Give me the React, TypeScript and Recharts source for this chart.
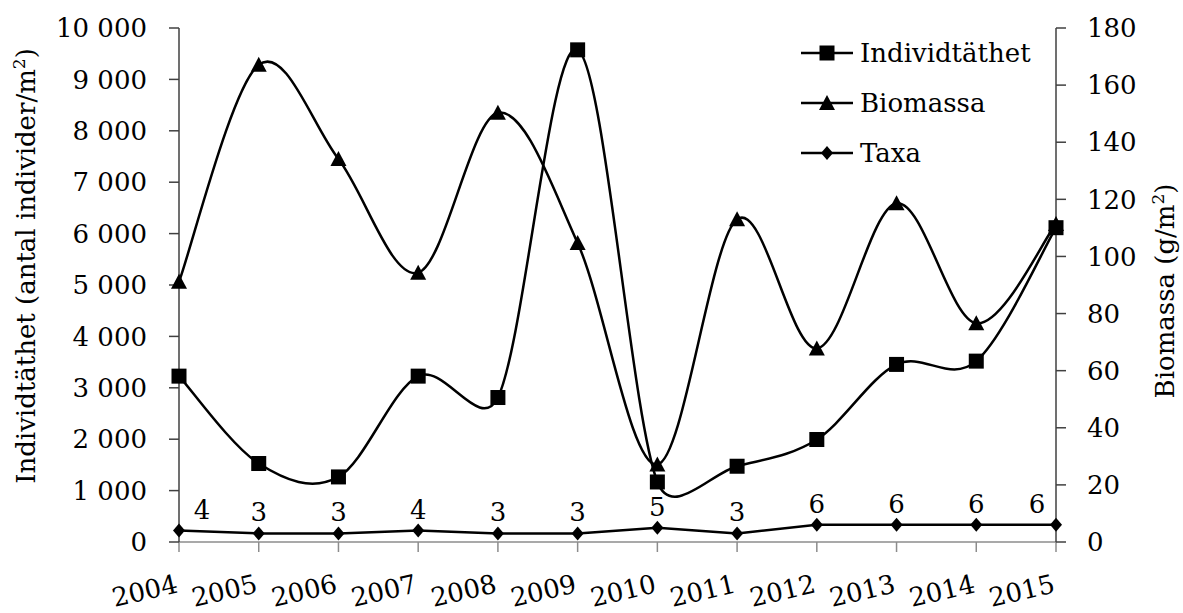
import React from "react";
import { LineChart, Line, XAxis, YAxis, Legend, LabelList, Label } from "recharts";

const years = ["2004", "2005", "2006", "2007", "2008", "2009", "2010", "2011", "2012", "2013", "2014", "2015"];
const individtathet = [3227, 1527, 1266, 3227, 2811, 9575, 1168, 1474, 1994, 3455, 3519, 6115];
const biomassa = [91.1, 167.1, 134.1, 94.3, 150.3, 104.7, 27.1, 113.0, 67.8, 118.6, 76.6, 111.4];
const taxa = [4, 3, 3, 4, 3, 3, 5, 3, 6, 6, 6, 6];

const leftTicks = [0, 1000, 2000, 3000, 4000, 5000, 6000, 7000, 8000, 9000, 10000];
const rightTicks = [0, 20, 40, 60, 80, 100, 120, 140, 160, 180];

const data = years.map((year, i) => ({
  year,
  ind: individtathet[i],
  bio: biomassa[i],
  taxa: taxa[i],
}));

const FONT = "'DejaVu Serif', serif";
const FS = 26;
const GRID_GRAY = "#8c8c8c";
const AXIS_DARK = "#404040";

// Excel-like smoothed line: tangent parallel to neighbours, arm capped at half the segment
function excelSmooth(context: any) {
  let pts: number[][] = [];
  return {
    areaStart() {},
    areaEnd() {},
    lineStart() {
      pts = [];
    },
    point(x: number, y: number) {
      pts.push([+x, +y]);
    },
    lineEnd() {
      const n = pts.length;
      if (!n) return;
      context.moveTo(pts[0][0], pts[0][1]);
      for (let i = 0; i < n - 1; i++) {
        const p0 = pts[Math.max(i - 1, 0)];
        const p1 = pts[i];
        const p2 = pts[i + 1];
        const p3 = pts[Math.min(i + 2, n - 1)];
        const seg = Math.hypot(p2[0] - p1[0], p2[1] - p1[1]);
        const arm = (a: number[], b: number[]) => {
          const dx = b[0] - a[0];
          const dy = b[1] - a[1];
          const d = Math.hypot(dx, dy);
          if (!d) return [0, 0];
          const len = Math.min(d / 6, seg / 2);
          return [(dx / d) * len, (dy / d) * len];
        };
        const a1 = arm(p0, p2);
        const a2 = arm(p1, p3);
        context.bezierCurveTo(p1[0] + a1[0], p1[1] + a1[1], p2[0] - a2[0], p2[1] - a2[1], p2[0], p2[1]);
      }
    },
  };
}

const fmtThousands = (v: number) => String(v).replace(/\B(?=(\d{3})+(?!\d))/g, " ");

const Square = ({ cx, cy, s = 15 }: any) => <rect x={cx - s / 2} y={cy - s / 2} width={s} height={s} fill="#000" />;
const Triangle = ({ cx, cy, s = 16 }: any) => (
  <polygon points={`${cx},${cy - s / 2} ${cx + s / 2},${cy + s / 2 - 1} ${cx - s / 2},${cy + s / 2 - 1}`} fill="#000" />
);
const Diamond = ({ cx, cy, s = 14 }: any) => (
  <polygon points={`${cx},${cy - s / 2} ${cx + s / 2 - 1},${cy} ${cx},${cy + s / 2} ${cx - s / 2 + 1},${cy}`} fill="#000" />
);

const renderSquare = (p: any) => <Square key={`sq${p.index}`} cx={p.cx} cy={p.cy} />;
const renderTriangle = (p: any) => <Triangle key={`tr${p.index}`} cx={p.cx} cy={p.cy} />;
const renderDiamond = (p: any) => <Diamond key={`di${p.index}`} cx={p.cx} cy={p.cy} />;

const YearTick = ({ x, y, payload }: any) => (
  <text
    x={x}
    y={y + 40}
    transform={`rotate(-13, ${x}, ${y + 40})`}
    textAnchor="end"
    fontFamily={FONT}
    fontSize={FS}
    fill="#000"
  >
    {payload.value}
  </text>
);

const TaxaLabel = ({ x, y, value, index }: any) => {
  let shift = 0;
  if (index === 0) shift = 23;
  if (index === taxa.length - 1) shift = -19;
  return (
    <text x={x + shift} y={y - 12} textAnchor="middle" fontFamily={FONT} fontSize={FS} fill="#000">
      {value}
    </text>
  );
};

const series = [
  { name: "Individtäthet", Marker: Square },
  { name: "Biomassa", Marker: Triangle },
  { name: "Taxa", Marker: Diamond },
];

const LegendBox = () => (
  <div style={{ fontFamily: FONT, fontSize: FS, color: "#000" }}>
    {series.map(({ name, Marker }) => (
      <div key={name} style={{ display: "flex", alignItems: "center", height: 50 }}>
        <svg width={52} height={20}>
          <line x1={0} y1={10} x2={52} y2={10} stroke="#000" strokeWidth={2.5} />
          <Marker cx={26} cy={10} />
        </svg>
        <span style={{ marginLeft: 7, lineHeight: "30px" }}>{name}</span>
      </div>
    ))}
  </div>
);

const LeftTitle = () => (
  <text transform="translate(35, 266) rotate(-90)" textAnchor="middle" fontFamily={FONT} fontSize={FS} fill="#000">
    Individtäthet (antal individer/m
    <tspan dy={-10} fontSize={17}>2</tspan>
    <tspan dy={10}>)</tspan>
  </text>
);

const RightTitle = () => (
  <text transform="translate(1174, 291) rotate(-90)" textAnchor="middle" fontFamily={FONT} fontSize={FS} fill="#000">
    Biomassa (g/m
    <tspan dy={-10} fontSize={17}>2</tspan>
    <tspan dy={10}>)</tspan>
  </text>
);

export default function App() {
  return (
    <div style={{ position: "absolute", left: 0, top: 0, background: "#fff", fontFamily: FONT }}>
      <LineChart width={1183} height={613} data={data} margin={{ top: 28, right: 0, bottom: 0, left: 0 }}>
        <XAxis
          dataKey="year"
          scale="point"
          padding={{ left: 0, right: 0 }}
          interval={0}
          height={71}
          tickSize={10}
          tickMargin={0}
          axisLine={{ stroke: GRID_GRAY, strokeWidth: 1.5 }}
          tickLine={{ stroke: GRID_GRAY, strokeWidth: 1.5 }}
          tick={<YearTick />}
        />
        <YAxis
          yAxisId="left"
          domain={[0, 10000]}
          ticks={leftTicks}
          allowDataOverflow
          width={179}
          tickSize={10}
          tickMargin={22}
          tickFormatter={fmtThousands}
          axisLine={{ stroke: AXIS_DARK, strokeWidth: 1.5 }}
          tickLine={{ stroke: AXIS_DARK, strokeWidth: 1.5 }}
          tick={{ fill: "#000", fontSize: FS, fontFamily: FONT }}
        >
          <Label content={<LeftTitle />} />
        </YAxis>
        <YAxis
          yAxisId="right"
          orientation="right"
          domain={[0, 180]}
          ticks={rightTicks}
          allowDataOverflow
          width={127}
          tickSize={10}
          tickMargin={21}
          axisLine={{ stroke: AXIS_DARK, strokeWidth: 1.5 }}
          tickLine={{ stroke: AXIS_DARK, strokeWidth: 1.5 }}
          tick={{ fill: "#000", fontSize: FS, fontFamily: FONT, textAnchor: "start" }}
        >
          <Label content={<RightTitle />} />
        </YAxis>
        <Legend
          layout="vertical"
          align="center"
          verticalAlign="middle"
          content={<LegendBox />}
          wrapperStyle={{ position: "absolute", left: 801, top: 28, width: 260 }}
        />
        <Line
          yAxisId="right"
          dataKey="taxa"
          name="Taxa"
          type="linear"
          stroke="#000"
          strokeWidth={2.5}
          dot={renderDiamond}
          activeDot={false}
          isAnimationActive={false}
        >
          <LabelList dataKey="taxa" content={<TaxaLabel />} />
        </Line>
        <Line
          yAxisId="right"
          dataKey="bio"
          name="Biomassa"
          type={excelSmooth as any}
          stroke="#000"
          strokeWidth={2.5}
          dot={renderTriangle}
          activeDot={false}
          isAnimationActive={false}
        />
        <Line
          yAxisId="left"
          dataKey="ind"
          name="Individtäthet"
          type={excelSmooth as any}
          stroke="#000"
          strokeWidth={2.5}
          dot={renderSquare}
          activeDot={false}
          isAnimationActive={false}
        />
      </LineChart>
    </div>
  );
}
